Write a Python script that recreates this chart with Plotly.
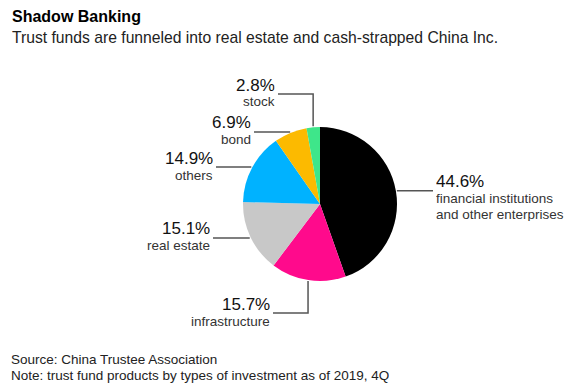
import math
import plotly.graph_objects as go

W, H = 587, 388

categories = ["financial institutions<br>and other enterprises", "infrastructure",
              "real estate", "others", "bond", "stock"]
values = [44.6, 15.7, 15.1, 14.9, 6.9, 2.8]
pct_labels = ["44.6%", "15.7%", "15.1%", "14.9%", "6.9%", "2.8%"]
colors = ["#000000", "#ff0a8c", "#c8c8c8", "#00b2ff", "#fcba00", "#3ee68a"]

# layout (pixels)
CX, CY, R = 320, 204, 77
# per-slice label placement: (side, elbow_y or None, line end x)
placement = [
    ("right", None, 433),
    ("left", 313, 273),
    ("left", None, 213),
    ("left", None, 216),
    ("left", None, 254),
    ("left", 94, 278),
]

FONT = "Liberation Sans, Arial, sans-serif"
LINE_COLOR = "#555555"


def px(x):
    return x / W


def py(y):
    return 1 - y / H


fig = go.Figure(go.Pie(
    labels=categories, values=values, sort=False, direction="clockwise",
    rotation=0, textinfo="none", hoverinfo="label+percent",
    marker=dict(colors=colors, line=dict(width=0)),
    domain=dict(x=[px(CX - R), px(CX + R)], y=[py(CY + R), py(CY - R)]),
    showlegend=False,
))

shapes = []
annotations = []
total = sum(values)
cum = 0.0
for cat, val, pct, (side, elbow, xend) in zip(categories, values, pct_labels, placement):
    mid = (cum + val / 2) / total
    cum += val
    ang = 2 * math.pi * mid
    sx = CX + (R + 1) * math.sin(ang)
    sy = CY - (R + 1) * math.cos(ang)
    if elbow is not None:
        pts = [(sx, sy), (sx, elbow), (xend, elbow)]
        ly = elbow
    else:
        pts = [(sx, sy), (xend, sy)]
        ly = sy
    path = "M " + " L ".join(f"{px(a):.5f},{py(b):.5f}" for a, b in pts)
    shapes.append(dict(type="path", path=path, xref="paper", yref="paper",
                       line=dict(color=LINE_COLOR, width=1.5)))
    if side == "right":
        tx, anchor = xend + 2, "left"
    else:
        tx, anchor = xend - 2, "right"
    annotations.append(dict(x=px(tx), y=py(ly - 9.5), xref="paper", yref="paper",
                            text=pct, showarrow=False, xanchor=anchor, yanchor="middle",
                            height=14, borderpad=0, valign="middle",
                            font=dict(family=FONT, size=17, color="#111111")))
    for i, part in enumerate(cat.split("<br>")):
        annotations.append(dict(x=px(tx), y=py(ly + 8 + 16 * i), xref="paper", yref="paper",
                                text=part, showarrow=False, xanchor=anchor, yanchor="middle",
                                height=13, borderpad=0, valign="middle",
                                font=dict(family=FONT, size=13.5, color="#333333")))

annotations += [
    dict(x=px(10), y=py(17), xref="paper", yref="paper", text="<b>Shadow Banking</b>",
         showarrow=False, xanchor="left", yanchor="middle",
         font=dict(family=FONT, size=16, color="#000000")),
    dict(x=px(10), y=py(38), xref="paper", yref="paper",
         text="Trust funds are funneled into real estate and cash-strapped China Inc.",
         showarrow=False, xanchor="left", yanchor="middle",
         font=dict(family=FONT, size=15.7, color="#222222")),
    dict(x=px(10), y=py(359), xref="paper", yref="paper",
         text="Source: China Trustee Association",
         showarrow=False, xanchor="left", yanchor="middle",
         height=15, borderpad=0,
         font=dict(family=FONT, size=13.5, color="#222222")),
    dict(x=px(10), y=py(375), xref="paper", yref="paper",
         text="Note: trust fund products by types of investment as of 2019, 4Q",
         showarrow=False, xanchor="left", yanchor="middle",
         height=15, borderpad=0,
         font=dict(family=FONT, size=13.5, color="#222222")),
]

fig.update_layout(width=W, height=H, margin=dict(l=0, r=0, t=0, b=0),
                  paper_bgcolor="white", plot_bgcolor="white",
                  shapes=shapes, annotations=annotations)
fig.write_html("out.html", config={"displayModeBar": False},
               post_script="document.body.style.margin='0';document.body.style.overflow='hidden';")
